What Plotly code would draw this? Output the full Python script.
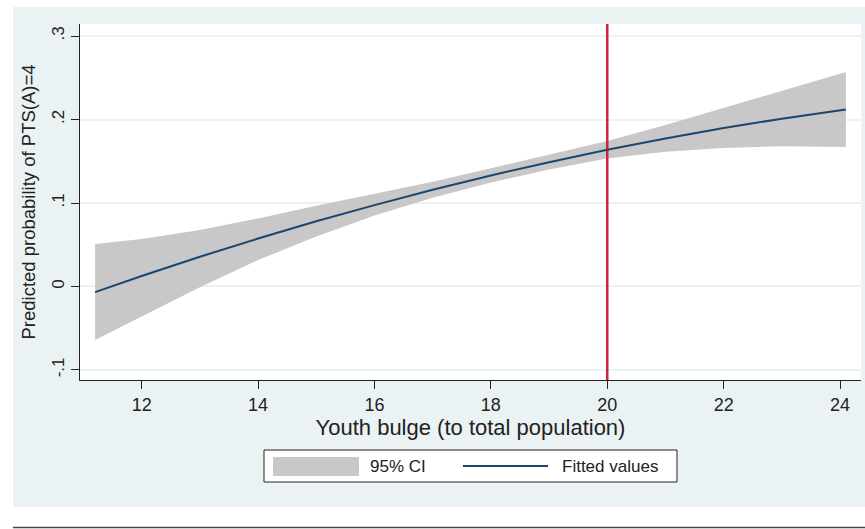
import plotly.graph_objects as go

# ---- data ----
youth_bulge = [11.2, 12, 13, 14, 15, 16, 17, 18, 19, 20, 21, 22, 23, 24, 24.1]
fitted = [-0.0067, 0.0126, 0.0356, 0.0574, 0.0781, 0.0975, 0.1158, 0.1330,
          0.1489, 0.1637, 0.1773, 0.1898, 0.2010, 0.2111, 0.2120]
ci_upper = [0.0508, 0.0570, 0.0678, 0.0815, 0.0968, 0.1110, 0.1256, 0.1415,
            0.1577, 0.1742, 0.1933, 0.2138, 0.2340, 0.2551, 0.2570]
ci_lower = [-0.0642, -0.0360, -0.0010, 0.0316, 0.0600, 0.0850, 0.1063, 0.1245,
            0.1401, 0.1532, 0.1613, 0.1658, 0.1680, 0.1671, 0.1670]
threshold_x = 20

x_ticks = [12, 14, 16, 18, 20, 22, 24]
y_ticks = [-0.1, 0, 0.1, 0.2, 0.3]
y_tick_labels = ["-.1", "0", ".1", ".2", ".3"]
legend_labels = ["95% CI", "Fitted values"]

x_title = "Youth bulge (to total population)"
y_title = "Predicted probability of PTS(A)=4"

# ---- styling ----
FONT = "Liberation Sans, Arial, Helvetica, sans-serif"
BG = "#EAF2F3"
CI_COLOR = "#C8C8C8"
LINE_COLOR = "#1A476F"
RED = "#CF223F"
TXT = "#222222"
X_RANGE = [10.94, 24.36]
Y_RANGE = [-0.112, 0.3144]

fig = go.Figure()

# confidence band
fig.add_trace(go.Scatter(
    x=youth_bulge + youth_bulge[::-1],
    y=ci_upper + ci_lower[::-1],
    fill="toself", fillcolor=CI_COLOR, mode="lines",
    line=dict(width=0, color=CI_COLOR),
    name=legend_labels[0], showlegend=False, hoverinfo="skip"))

# vertical reference line
fig.add_trace(go.Scatter(
    x=[threshold_x, threshold_x], y=Y_RANGE, mode="lines",
    line=dict(color=RED, width=2.5), showlegend=False, hoverinfo="skip"))

# fitted values
fig.add_trace(go.Scatter(
    x=youth_bulge, y=fitted, mode="lines",
    line=dict(color=LINE_COLOR, width=2), name=legend_labels[1],
    showlegend=False))

W, H = 865, 529
ML, MR, MT, MB = 80, 4, 24, 149
pw, ph = W - ML - MR, H - MT - MB


def px(xp):
    return (xp - ML) / pw


def py(yp):
    return (H - MB - yp) / ph


shapes = [
    # white strips around the light panel
    dict(type="rect", xref="paper", yref="paper", x0=px(0), x1=px(W),
         y0=py(7), y1=py(0), fillcolor="white", line=dict(width=0), layer="below"),
    dict(type="rect", xref="paper", yref="paper", x0=px(0), x1=px(13),
         y0=py(H), y1=py(0), fillcolor="white", line=dict(width=0), layer="below"),
    dict(type="rect", xref="paper", yref="paper", x0=px(0), x1=px(W),
         y0=py(H), y1=py(507), fillcolor="white", line=dict(width=0), layer="below"),
    # bottom rule
    dict(type="line", xref="paper", yref="paper", x0=px(13), x1=px(W),
         y0=py(527.5), y1=py(527.5), line=dict(color="#444444", width=1.5)),
    # legend box
    dict(type="rect", xref="paper", yref="paper", x0=px(264), x1=px(677),
         y0=py(482), y1=py(450), fillcolor="white",
         line=dict(color=TXT, width=1)),
    dict(type="rect", xref="paper", yref="paper", x0=px(273), x1=px(359),
         y0=py(476), y1=py(457), fillcolor=CI_COLOR, line=dict(width=0)),
    dict(type="line", xref="paper", yref="paper", x0=px(463), x1=px(548),
         y0=py(466), y1=py(466), line=dict(color=LINE_COLOR, width=2)),
]

annotations = [
    dict(x=px(368), y=py(466.5), xref="paper", yref="paper", text=legend_labels[0],
         showarrow=False, xanchor="left", yanchor="middle",
         font=dict(family=FONT, size=17, color=TXT)),
    dict(x=px(560), y=py(466.5), xref="paper", yref="paper", text=legend_labels[1],
         showarrow=False, xanchor="left", yanchor="middle",
         font=dict(family=FONT, size=17, color=TXT)),
]

fig.update_layout(
    width=W, height=H,
    margin=dict(l=ML, r=MR, t=MT, b=MB, pad=0),
    paper_bgcolor=BG, plot_bgcolor="white",
    font=dict(family=FONT, color=TXT),
    showlegend=False,
    shapes=shapes, annotations=annotations,
    xaxis=dict(
        range=X_RANGE, tickvals=x_ticks, ticks="outside", ticklen=8,
        tickwidth=1, tickcolor=TXT, showline=True, linecolor=TXT,
        linewidth=1.2, showgrid=False, zeroline=False,
        tickfont=dict(size=18, family=FONT, color=TXT),
        title=dict(text=x_title, font=dict(size=22, family=FONT, color=TXT),
                   standoff=5),
    ),
    yaxis=dict(
        range=Y_RANGE, tickvals=y_ticks, ticktext=y_tick_labels,
        tickangle=-90, ticks="outside", ticklen=8, tickwidth=1,
        tickcolor=TXT, showline=True, linecolor=TXT, linewidth=1.2,
        showgrid=True, gridcolor=BG, gridwidth=1.5, zeroline=False,
        tickfont=dict(size=17, family=FONT, color=TXT),
        title=dict(text=y_title, font=dict(size=18.5, family=FONT, color=TXT),
                   standoff=8),
    ),
)

fig.write_html(
    "out.html",
    config={"displayModeBar": False},
    post_script="document.body.style.margin='0px';"
                "document.body.style.overflow='hidden';",
)
